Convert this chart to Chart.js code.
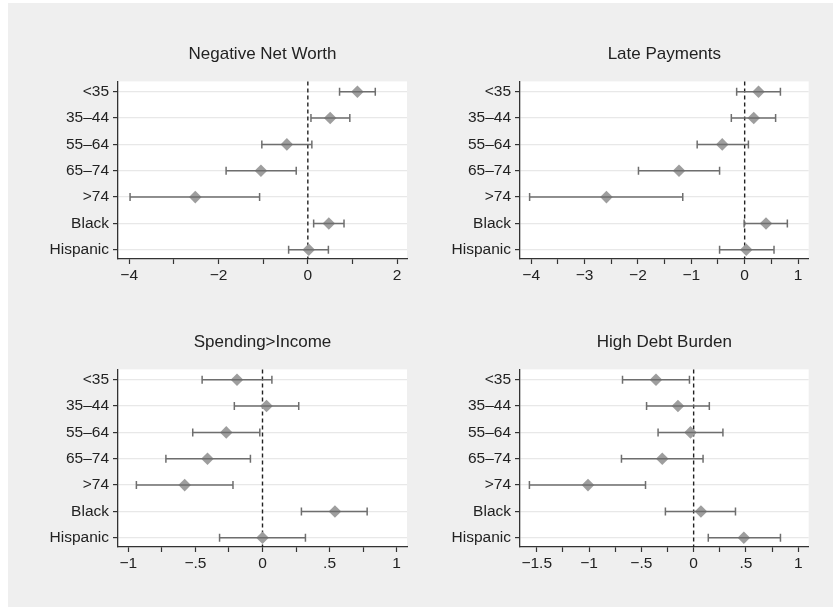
<!DOCTYPE html>
<html>
<head>
<meta charset="utf-8">
<script src="https://cdn.jsdelivr.net/npm/chart.js@4.4.1/dist/chart.umd.min.js"></script>
<style>
  body { margin: 0; width: 833px; height: 607px; background: #fff; position: relative; overflow: hidden; }
  #bg { position: absolute; left: 8px; top: 3px; right: 0; bottom: 0; background: #efefef; }
  canvas { position: absolute; }
</style>
</head>
<body>
<div id="bg"></div>
<canvas id="c1" width="410" height="262" style="left:8px;top:28px;width:410px;height:262px"></canvas>
<canvas id="c2" width="410" height="262" style="left:410px;top:28px;width:410px;height:262px"></canvas>
<canvas id="c3" width="410" height="262" style="left:8px;top:316px;width:410px;height:262px"></canvas>
<canvas id="c4" width="410" height="262" style="left:410px;top:316px;width:410px;height:262px"></canvas>
<script>
// groups (rows, top to bottom)
const categories = ['<35', '35\u201344', '55\u201364', '65\u201374', '>74', 'Black', 'Hispanic'];

// Negative Net Worth
const nnwCoef = [1.11, 0.50, -0.47, -1.05, -2.52, 0.47, 0.02];
const nnwLo   = [0.71, 0.07, -1.03, -1.83, -3.98, 0.13, -0.43];
const nnwHi   = [1.51, 0.94, 0.09, -0.26, -1.08, 0.81, 0.46];

// Late Payments
const lateCoef = [0.26, 0.17, -0.42, -1.23, -2.59, 0.40, 0.03];
const lateLo   = [-0.15, -0.25, -0.89, -1.99, -4.03, -0.01, -0.47];
const lateHi   = [0.67, 0.58, 0.07, -0.47, -1.16, 0.80, 0.55];

// Spending>Income
const spendCoef = [-0.19, 0.03, -0.27, -0.41, -0.58, 0.54, 0.00];
const spendLo   = [-0.45, -0.21, -0.52, -0.72, -0.94, 0.29, -0.32];
const spendHi   = [0.07, 0.27, -0.02, -0.09, -0.22, 0.78, 0.32];

// High Debt Burden
const debtCoef = [-0.36, -0.15, -0.03, -0.30, -1.01, 0.07, 0.48];
const debtLo   = [-0.68, -0.45, -0.34, -0.69, -1.57, -0.27, 0.14];
const debtHi   = [-0.04, 0.15, 0.28, 0.09, -0.46, 0.40, 0.83];

// x tick values and their labels ('' = unlabeled minor tick)
const nnwTicks = [-4, -3, -2, -1, 0, 1, 2];
const nnwTickLabels = ['\u22124', '', '\u22122', '', '0', '', '2'];
const lateTicks = [-4, -3.5, -3, -2.5, -2, -1.5, -1, -0.5, 0, 0.5, 1];
const lateTickLabels = ['\u22124', '', '\u22123', '', '\u22122', '', '\u22121', '', '0', '', '1'];
const spendTicks = [-1, -0.75, -0.5, -0.25, 0, 0.25, 0.5, 0.75, 1];
const spendTickLabels = ['\u22121', '', '\u2212.5', '', '0', '', '.5', '', '1'];
const debtTicks = [-1.5, -1.25, -1, -0.75, -0.5, -0.25, 0, 0.25, 0.5, 0.75, 1];
const debtTickLabels = ['\u22121.5', '', '\u22121', '', '\u2212.5', '', '0', '', '.5', '', '1'];

Chart.defaults.font.family = '"Liberation Sans", Arial, Helvetica, sans-serif';
Chart.defaults.color = '#222';

// white plot region + dashed reference line at zero
const plotBg = {
  id: 'plotBg',
  beforeDraw(chart) {
    const a = chart.chartArea, ctx = chart.ctx;
    ctx.save();
    ctx.fillStyle = '#fff';
    ctx.fillRect(a.left, a.top, a.right - a.left, a.bottom - a.top);
    ctx.restore();
  },
  beforeDatasetsDraw(chart) {
    const a = chart.chartArea, ctx = chart.ctx;
    const x = chart.scales.x.getPixelForValue(0);
    ctx.save();
    ctx.strokeStyle = '#222';
    ctx.lineWidth = 1.4;
    ctx.setLineDash([4, 3]);
    ctx.beginPath();
    ctx.moveTo(x, a.top);
    ctx.lineTo(x, a.bottom);
    ctx.stroke();
    ctx.restore();
  }
};

function makePanel(id, title, coef, lo, hi, xMin, xMax, ticks, tickLabels, padRight) {
  // CI segments, separated by null points so each row is its own line
  const ciData = [];
  lo.forEach((v, i) => {
    ciData.push({ x: v, y: i }, { x: hi[i], y: i }, { x: null, y: null });
  });

  new Chart(document.getElementById(id), {
    type: 'scatter',
    data: {
      datasets: [{
        data: ciData,
        showLine: true,
        spanGaps: false,
        borderColor: '#6e6e6e',
        borderWidth: 1.5,
        pointStyle: 'line',
        rotation: 90,
        pointRadius: 4,
        pointBorderColor: '#6e6e6e',
        pointBorderWidth: 1.5
      }, {
        data: coef.map((v, i) => ({ x: v, y: i })),
        pointStyle: 'rectRot',
        pointRadius: 6.3,
        backgroundColor: '#9e9e9e',
        borderColor: '#9e9e9e',
        borderWidth: 0
      }]
    },
    options: {
      responsive: false,
      animation: false,
      layout: { padding: { left: 0, right: padRight, top: 0, bottom: 0 } },
      plugins: {
        legend: { display: false },
        tooltip: { enabled: false },
        title: {
          display: true,
          fullSize: false,
          text: title,
          color: '#222',
          font: { size: 17, weight: 'normal', lineHeight: 1.2 },
          padding: { top: 16.5, bottom: 16.5 }
        }
      },
      scales: {
        x: {
          type: 'linear',
          min: xMin,
          max: xMax,
          afterBuildTicks: s => { s.ticks = ticks.map(v => ({ value: v })); },
          afterFit: s => { s.height = 31; },
          ticks: {
            callback: (v, i) => tickLabels[i],
            autoSkip: false,
            maxRotation: 0,
            padding: 2,
            color: '#222',
            font: { size: 15.5 }
          },
          grid: { drawOnChartArea: false, tickLength: 5, tickColor: '#333', tickWidth: 1.2 },
          border: { color: '#333', width: 1.3 }
        },
        y: {
          type: 'linear',
          reverse: true,
          min: -0.39,
          max: 6.35,
          afterBuildTicks: s => { s.ticks = categories.map((c, i) => ({ value: i })); },
          afterFit: s => { s.width = 110; },
          ticks: {
            callback: (v, i) => categories[i],
            autoSkip: false,
            padding: 4,
            color: '#222',
            font: { size: 15.5 }
          },
          grid: { color: '#e8e8e8', lineWidth: 1.2, tickLength: 5, tickColor: '#333', tickWidth: 1.2 },
          border: { color: '#333', width: 1.3 }
        }
      }
    },
    plugins: [plotBg]
  });
}

makePanel('c1', 'Negative Net Worth', nnwCoef, nnwLo, nnwHi, -4.25, 2.22, nnwTicks, nnwTickLabels, 11);
makePanel('c2', 'Late Payments', lateCoef, lateLo, lateHi, -4.21, 1.2, lateTicks, lateTickLabels, 11.3);
makePanel('c3', 'Spending>Income', spendCoef, spendLo, spendHi, -1.077, 1.077, spendTicks, spendTickLabels, 11);
makePanel('c4', 'High Debt Burden', debtCoef, debtLo, debtHi, -1.66, 1.10, debtTicks, debtTickLabels, 11.3);
</script>
</body>
</html>
